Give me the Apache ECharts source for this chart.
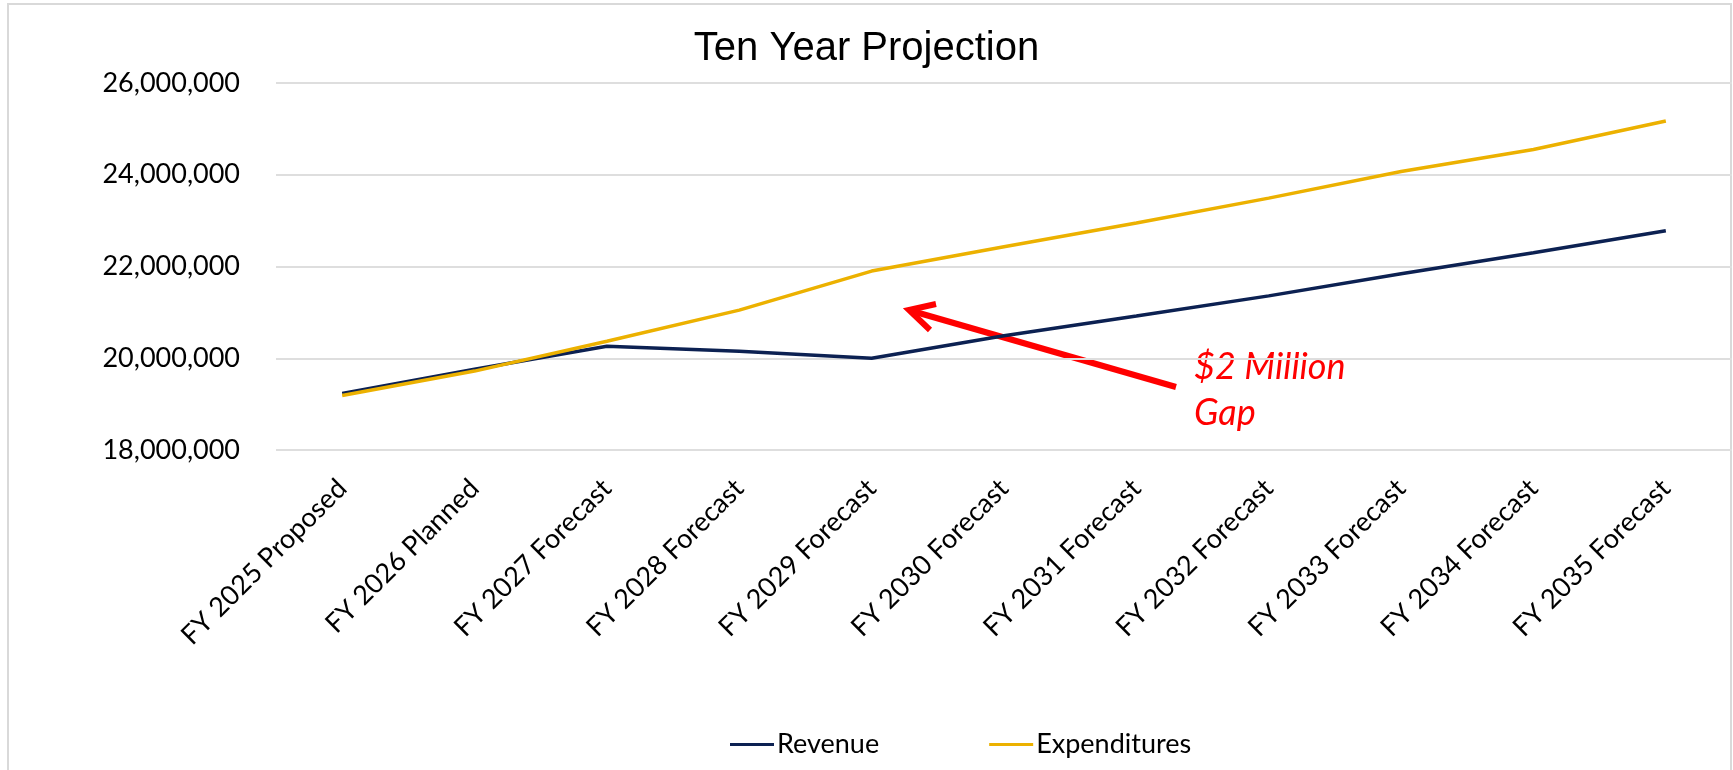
<!DOCTYPE html>
<html>
<head>
<meta charset="utf-8">
<script src="https://cdn.jsdelivr.net/npm/echarts@6/dist/echarts.min.js"></script>
<style>
  html, body { margin: 0; padding: 0; background: #fff; }
  #myChart { width: 1733px; height: 770px; }
</style>
</head>
<body>
<div id="myChart"></div>
<script>
// categories and values
const categories = [
  'FY 2025 Proposed', 'FY 2026 Planned', 'FY 2027 Forecast', 'FY 2028 Forecast',
  'FY 2029 Forecast', 'FY 2030 Forecast', 'FY 2031 Forecast', 'FY 2032 Forecast',
  'FY 2033 Forecast', 'FY 2034 Forecast', 'FY 2035 Forecast'
]
const revenue = [19230000, 19760000, 20260000, 20150000, 20000000, 20490000,
  20920000, 21360000, 21840000, 22300000, 22780000]
const expenditures = [19190000, 19720000, 20370000, 21050000, 21900000, 22430000,
  22950000, 23490000, 24070000, 24550000, 25170000]
const yMin = 18000000
const yMax = 26000000
const yStep = 2000000

const labelFont = 'Lato, "Open Sans", sans-serif'

const myChart = echarts.init(document.getElementById('myChart'))
myChart.setOption({
  animation: false,
  title: {
    text: 'Ten Year Projection',
    left: 'center',
    top: 24,
    textStyle: {
      fontFamily: '"Liberation Sans", Arial, sans-serif',
      fontSize: 40,
      fontWeight: 'normal',
      color: '#000'
    }
  },
  legend: {
    left: 725,
    top: 726,
    icon: 'rect',
    itemWidth: 44,
    itemHeight: 3,
    itemGap: 110,
    textStyle: { fontFamily: labelFont, fontSize: 27, color: '#000', padding: [0, 0, 0, -2] },
    data: ['Revenue', 'Expenditures']
  },
  grid: {
    left: 276,
    right: 1,
    top: 83,
    bottom: 320
  },
  xAxis: {
    type: 'category',
    boundaryGap: true,
    data: categories,
    axisLine: { show: false },
    axisTick: { show: false },
    axisLabel: {
      rotate: 45,
      interval: 0,
      margin: 34,
      fontFamily: labelFont,
      fontSize: 27,
      color: '#000'
    }
  },
  yAxis: {
    type: 'value',
    min: yMin,
    max: yMax,
    interval: yStep,
    axisLine: { show: false },
    axisTick: { show: false },
    splitLine: { lineStyle: { color: '#dedede', width: 2 } },
    axisLabel: {
      margin: 36,
      fontFamily: labelFont,
      fontSize: 27,
      color: '#000',
      formatter: v => v.toLocaleString('en-US')
    }
  },
  series: [
    {
      name: 'Revenue',
      type: 'line',
      data: revenue,
      symbol: 'none',
      color: '#0c2152',
      lineStyle: { width: 3.5, color: '#0c2152' }
    },
    {
      name: 'Expenditures',
      type: 'line',
      data: expenditures,
      symbol: 'none',
      color: '#ecb100',
      lineStyle: { width: 3.5, color: '#ecb100' }
    }
  ],
  graphic: [
    // outer chart frame
    {
      type: 'rect',
      shape: { x: 8, y: 4, width: 1723, height: 800 },
      style: { fill: 'none', stroke: '#d9d9d9', lineWidth: 2 },
      silent: true
    },
    // gap arrow
    {
      type: 'line',
      shape: { x1: 1176, y1: 387, x2: 912, y2: 311 },
      style: { stroke: '#ff0000', lineWidth: 6 }
    },
    {
      type: 'polyline',
      shape: { points: [[936, 304], [909, 310], [930, 330]] },
      style: { stroke: '#ff0000', lineWidth: 6, fill: 'none', lineJoin: 'miter' }
    },
    {
      type: 'text',
      left: 1194,
      top: 344,
      style: {
        text: '$2 Million\nGap',
        fill: '#ff0000',
        fontFamily: labelFont,
        fontStyle: 'italic',
        fontWeight: 'normal',
        fontSize: 36,
        lineHeight: 46
      }
    }
  ]
})
</script>
</body>
</html>
